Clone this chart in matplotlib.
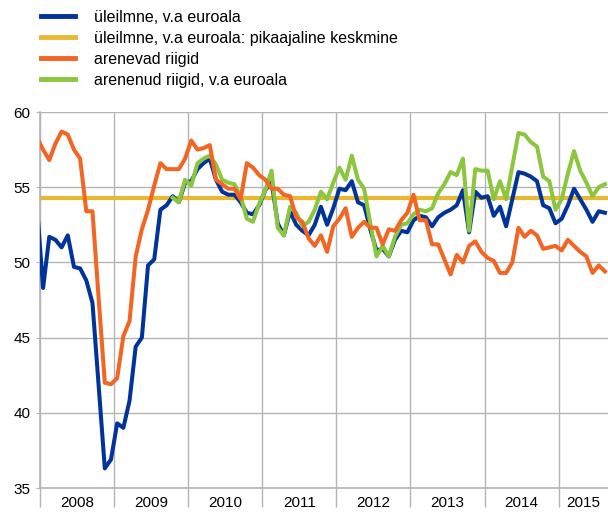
import numpy as np
import matplotlib
matplotlib.use("Agg")
from matplotlib import pyplot as plt

plt.rcParams['font.family'] = ['Liberation Sans', 'DejaVu Sans']

# monthly values, Dec 2007 .. Aug 2015
uleilmne = [53.8,
    48.3, 51.7, 51.5, 51.0, 51.8, 49.7, 49.6, 48.8, 47.3, 41.8, 36.3, 36.9,
    39.3, 39.0, 40.8, 44.4, 45.0, 49.8, 50.2, 53.5, 53.8, 54.4, 54.0, 55.3,
    55.4, 56.2, 56.6, 56.9, 55.5, 54.7, 54.5, 54.5, 54.0, 53.3, 53.2, 53.8,
    54.8, 55.4, 52.6, 51.8, 53.4, 52.5, 52.1, 51.8, 52.5, 53.7, 52.5, 53.6,
    54.9, 54.8, 55.4, 54.0, 53.8, 52.2, 50.8, 50.9, 50.4, 51.5, 52.1, 52.0,
    52.8, 53.1, 53.0, 52.4, 53.0, 53.3, 53.5, 53.8, 54.8, 52.0, 54.7, 54.3,
    54.4, 53.1, 53.7, 52.4, 54.2, 56.0, 55.9, 55.7, 55.4, 53.8, 53.6, 52.6,
    52.9, 53.8, 54.9, 54.2, 53.5, 52.7, 53.4, 53.3]

arenevad = [58.3,
    57.5, 56.8, 57.9, 58.7, 58.5, 57.5, 56.9, 53.4, 53.4, 47.6, 42.0, 41.9,
    42.3, 45.1, 46.1, 50.4, 52.2, 53.5, 55.1, 56.6, 56.2, 56.2, 56.2, 56.9,
    58.1, 57.5, 57.6, 57.8, 55.5, 55.2, 54.9, 54.9, 54.2, 56.6, 56.3, 55.8,
    55.5, 54.9, 54.9, 54.5, 54.4, 53.0, 52.7, 51.6, 51.1, 51.8, 50.7, 52.4,
    52.9, 53.6, 51.7, 52.3, 52.7, 52.3, 52.3, 51.2, 52.2, 52.1, 52.8, 53.3,
    54.5, 52.8, 52.8, 51.2, 51.2, 50.2, 49.2, 50.5, 50.0, 51.1, 51.4, 50.7,
    50.3, 50.1, 49.3, 49.3, 50.0, 52.3, 51.7, 52.1, 51.8, 50.9, 51.0, 51.1,
    50.8, 51.5, 51.1, 50.7, 50.4, 49.3, 49.8, 49.4]

# starts Oct 2009
arenenud = [
    54.3, 54.0, 55.5,
    55.1, 56.6, 56.9, 57.1, 56.5, 55.5, 55.3, 55.2, 54.4, 52.9, 52.7, 53.9,
    54.8, 56.1, 52.3, 51.8, 53.7, 53.3, 52.4, 52.7, 53.5, 54.7, 54.2, 55.3,
    56.3, 55.5, 57.1, 55.5, 54.9, 52.6, 50.4, 51.1, 50.4, 51.7, 52.5, 52.6,
    53.2, 53.5, 53.4, 53.6, 54.6, 55.2, 56.0, 55.8, 56.9, 52.1, 56.2, 56.1,
    56.1, 54.2, 55.4, 54.2, 56.4, 58.6, 58.5, 58.0, 57.7, 55.7, 55.4, 53.5,
    54.2, 55.9, 57.4, 56.1, 55.3, 54.4, 55.0, 55.2]

keskmine = 54.3
years = ['2008', '2009', '2010', '2011', '2012', '2013', '2014', '2015']

x_all = np.arange(-1, 92) + 0.5
x_green = np.arange(21, 92) + 0.5

fig = plt.figure(figsize=(6.08, 5.16), dpi=100)
ax = fig.add_axes([40 / 608, 1 - 488 / 516, 568 / 608, (488 - 112) / 516])

c_blue = '#00349a'
c_yellow = '#e8b830'
c_orange = '#f26522'
c_green = '#8cc63f'

l2 = ax.axhline(keskmine, color=c_yellow, lw=3, zorder=2)
l1, = ax.plot(x_all, uleilmne, color=c_blue, lw=2.9, zorder=3)
l4, = ax.plot(x_green, arenenud, color=c_green, lw=2.9, zorder=4)
l3, = ax.plot(x_all, arenevad, color=c_orange, lw=2.9, zorder=5)

ax.set_xlim(0, 92)
ax.set_ylim(35, 60)
ax.set_yticks([35, 40, 45, 50, 55, 60])
ax.set_xticks(np.arange(0, 85, 12))
ax.set_xticklabels([])
ax.set_xticks(np.arange(6, 90, 12)[:7].tolist() + [88], minor=True)
ax.set_xticklabels(years, minor=True)

grid_c = '#b4b4b4'
ax.grid(True, which='major', color=grid_c, lw=1, zorder=0)
ax.tick_params(axis='x', which='major', length=14, color=grid_c, width=1, direction='out')
ax.tick_params(axis='x', which='minor', length=0, pad=6, labelsize=11)
ax.tick_params(axis='y', length=3, color=grid_c, labelsize=11, pad=4)
for s in ['top', 'right']:
    ax.spines[s].set_visible(False)
for s in ['left', 'bottom']:
    ax.spines[s].set_color(grid_c)
    ax.spines[s].set_linewidth(1.2)

leg = fig.legend([l1, l2, l3, l4],
                 ['üleilmne, v.a euroala', 'üleilmne, v.a euroala: pikaajaline keskmine',
                  'arenevad riigid', 'arenenud riigid, v.a euroala'],
                 loc='upper left', bbox_to_anchor=(41 / 608, 1 - 10 / 516),
                 frameon=False, fontsize=11.5, handlelength=2.1, handletextpad=1.2,
                 labelspacing=0.37, borderaxespad=0, borderpad=0)
for h in leg.get_lines():
    h.set_linewidth(3.5)

fig.savefig('out.png', dpi=100)
